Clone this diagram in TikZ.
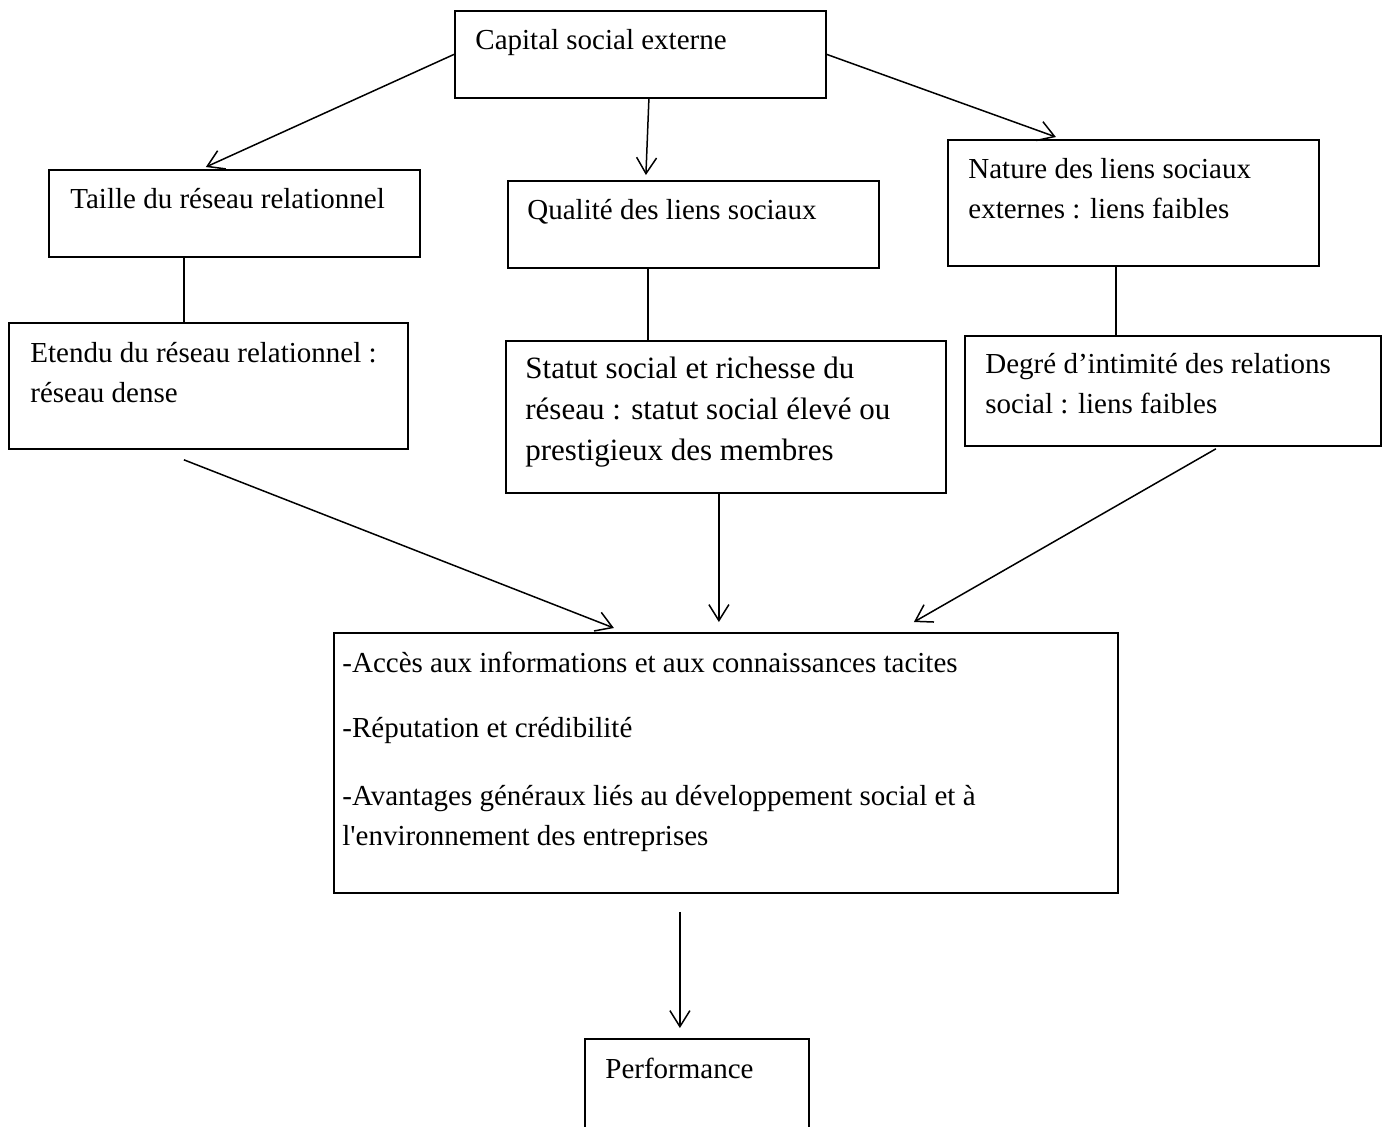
\documentclass[tikz,border=0pt]{standalone}
\usepackage{fontspec}
\setmainfont{Liberation Serif}[Ligatures=TeXOff]
\usetikzlibrary{arrows.meta,positioning,calc}
\tikzset{
  box/.style={draw, line width=0.9pt, anchor=north west, inner sep=0pt},
  txt/.style={anchor=base west, align=left, inner sep=0pt, font=\fontsize{14.5}{20}\selectfont},
  arrow/.style={-{Straight Barb[length=8pt,width=10pt]}, line width=0.75pt},
  link/.style={line width=0.75pt}
}

\begin{document}
\begin{tikzpicture}[x=0.5pt,y=-0.5pt]
    \useasboundingbox (0,0) rectangle (1385,1126);
    \clip (0,0) rectangle (1385,1126);
    % Boxes
    \node[box, minimum width=185.5pt, minimum height=43.5pt] (cap) at (454,10) {};
    \node[box, minimum width=185.5pt, minimum height=43.5pt] (taille) at (48,169) {};
    \node[box, minimum width=185.5pt, minimum height=43.5pt] (qual) at (507,180) {};
    \node[box, minimum width=185.5pt, minimum height=63pt] (nature) at (947,139) {};
    \node[box, minimum width=199.5pt, minimum height=63pt] (etendu) at (8,322) {};
    \node[box, minimum width=220pt, minimum height=76pt] (statut) at (505,340) {};
    \node[box, minimum width=208pt, minimum height=55pt] (degre) at (964,335) {};
    \node[box, minimum width=392pt, minimum height=130pt] (acces) at (333,632) {};
    \node[box, minimum width=112pt, minimum height=60pt] (perf) at (584,1038) {};
    % Texts (anchored on the baseline of their last line)
    \node[txt] (capT) at ([shift={(10.5pt,-19.5pt)}]cap.north west) {Capital social externe};
    \node[txt] (tailleT) at ([shift={(11pt,-19.5pt)}]taille.north west) {Taille du réseau relationnel};
    \node[txt] (qualT) at ([shift={(10pt,-19.5pt)}]qual.north west) {Qualité des liens sociaux};
    \node[txt] (natureT) at ([shift={(10.5pt,-39.5pt)}]nature.north west) {Nature des liens sociaux\\externes : liens faibles};
    \node[txt] (etenduT) at ([shift={(11pt,-40pt)}]etendu.north west) {Etendu du réseau relationnel :\\réseau dense};
    \node[txt, font=\fontsize{15.5}{20.5}\selectfont] (statutT) at ([shift={(10pt,-60pt)}]statut.north west) {Statut social et richesse du\\réseau : statut social élevé ou\\prestigieux des membres};
    \node[txt] (degreT) at ([shift={(10.5pt,-39pt)}]degre.north west) {Degré d’intimité des relations\\social : liens faibles};
    \node[txt] (accesT) at ([shift={(4.5pt,-106.5pt)}]acces.north west) {-Accès aux informations et aux connaissances tacites\\[12.5pt]-Réputation et crédibilité\\[14pt]-Avantages généraux liés au développement social et à\\l'environnement des entreprises};
    \node[txt] (perfT) at ([shift={(10.5pt,-20pt)}]perf.north west) {Performance};
    % Arrows from the top box
    \draw[arrow] (cap.west) -- ([xshift=-14.25pt,yshift=1pt]taille.north);
    \draw[arrow] ([xshift=4.25pt]cap.south) -- ([xshift=-23.75pt,yshift=2.5pt]qual.north);
    \draw[arrow] (cap.east) -- ([xshift=-38.75pt,yshift=1pt]nature.north);
    % Plain links
    \draw[link] ([xshift=-25.25pt]taille.south) -- ([xshift=-25.25pt]taille.south |- etendu.north);
    \draw[link] ([xshift=-22.75pt]qual.south) -- ([xshift=-22.75pt]qual.south |- statut.north);
    \draw[link] ([xshift=-8.75pt]nature.south) -- ([xshift=-8.75pt]nature.south |- degre.north);
    % Arrows to the outcome box
    \draw[arrow] ([xshift=-12.25pt,yshift=-5pt]etendu.south) -- ([xshift=-56pt,yshift=2pt]acces.north);
    \draw[arrow] ([xshift=-3.5pt]statut.south) -- ([xshift=-3.5pt,yshift=5pt]statut.south |- acces.north);
    \draw[arrow] ([xshift=21.5pt,yshift=-1pt]degre.south) -- ([xshift=94pt,yshift=5pt]acces.north);
    \draw[arrow] ([xshift=-23pt,yshift=-9pt]acces.south) -- ([xshift=-23pt,yshift=5pt]acces.south |- perf.north);
\end{tikzpicture}
\end{document}
